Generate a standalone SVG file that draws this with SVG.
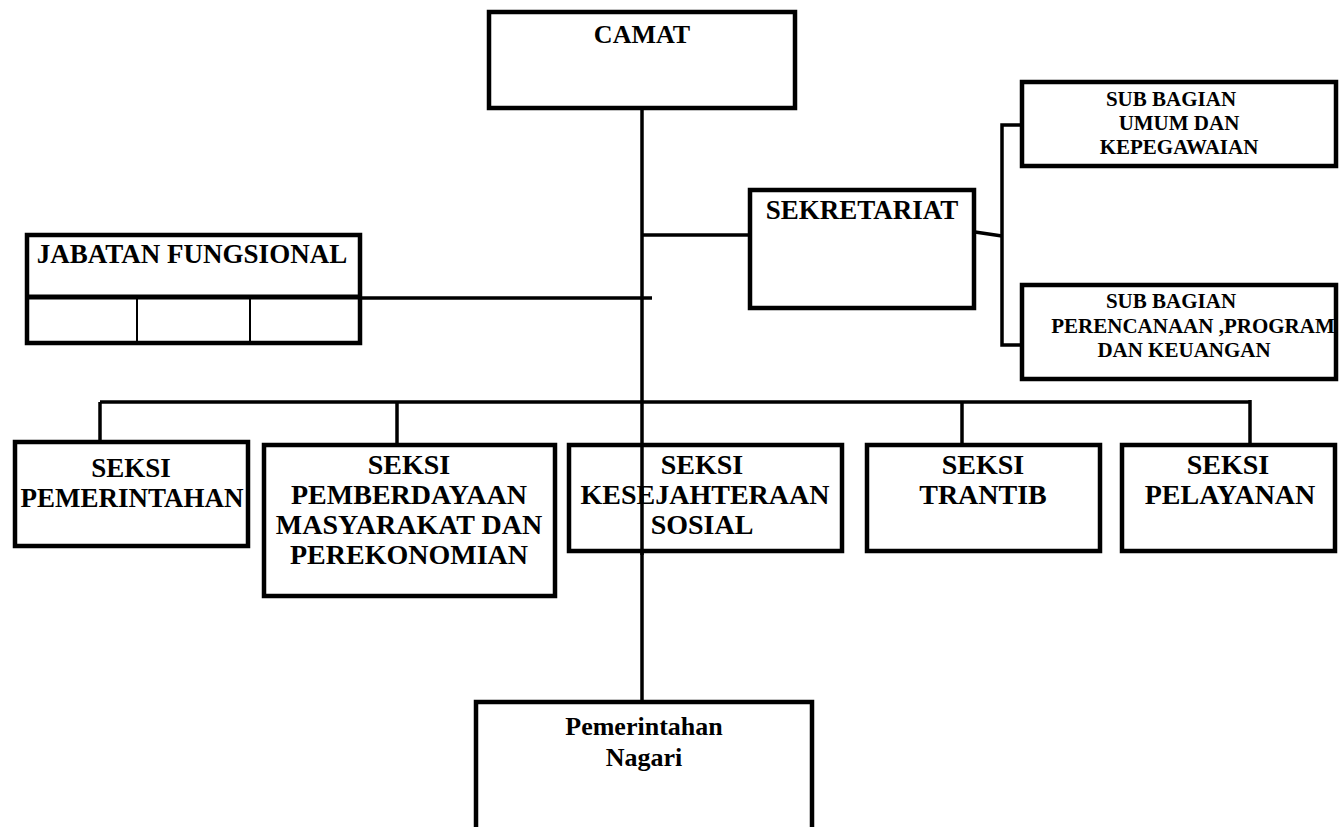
<svg xmlns="http://www.w3.org/2000/svg" width="1342" height="827" viewBox="0 0 1342 827">
<style>
.box{fill:#fff;stroke:#000;stroke-width:4.5}
.ln{fill:none;stroke:#000;stroke-width:3.5}
text{font-family:"Liberation Serif","Times New Roman",serif;font-weight:bold;fill:#000;text-anchor:middle}
.f26{font-size:26px}
.f27{font-size:27px}
.f28{font-size:28px}
.f21{font-size:21px}
</style>
<rect width="1342" height="827" fill="#fff"/>
<g id="connectors">
<line class="ln" x1="642" y1="110" x2="642" y2="700"/>
<line class="ln" x1="642" y1="235" x2="748" y2="235"/>
<polyline class="ln" points="975,232 1002,236"/>
<polyline class="ln" points="1020,125 1002,125 1002,345 1020,345"/>
<line class="ln" x1="362" y1="298" x2="652" y2="298"/>
<line class="ln" x1="100" y1="402" x2="1250" y2="402"/>
<line class="ln" x1="100" y1="402" x2="100" y2="440"/>
<line class="ln" x1="397" y1="402" x2="397" y2="443"/>
<line class="ln" x1="962" y1="402" x2="962" y2="443"/>
<line class="ln" x1="1250" y1="400" x2="1250" y2="443"/>
</g>
<g id="camat">
<rect class="box" x="489" y="12" width="306" height="96"/>
<text class="f26" x="642" y="43">CAMAT</text>
</g>
<g id="sekretariat">
<rect class="box" x="750" y="190" width="224" height="118"/>
<text class="f27" x="862" y="219">SEKRETARIAT</text>
</g>
<g id="sub-umum">
<rect class="box" x="1022" y="82" width="314" height="84"/>
<text class="f21" x="1171" y="106">SUB BAGIAN</text>
<text class="f21" x="1179" y="130">UMUM DAN</text>
<text class="f21" x="1179" y="154">KEPEGAWAIAN</text>
</g>
<g id="sub-perencanaan">
<rect class="box" x="1022" y="285" width="314" height="94"/>
<text class="f21" x="1171" y="308">SUB BAGIAN</text>
<text class="f21" x="1193" y="333">PERENCANAAN ,PROGRAM</text>
<text class="f21" x="1184" y="357">DAN KEUANGAN</text>
</g>
<g id="jabatan">
<rect class="box" x="27" y="235" width="333" height="108"/>
<line x1="27" y1="297" x2="360" y2="297" stroke="#000" stroke-width="5"/>
<line x1="137" y1="297" x2="137" y2="343" stroke="#000" stroke-width="2"/>
<line x1="250" y1="297" x2="250" y2="343" stroke="#000" stroke-width="2"/>
<text class="f27" x="192" y="263">JABATAN FUNGSIONAL</text>
</g>
<g id="seksi-pemerintahan">
<rect class="box" x="15" y="442" width="233" height="104"/>
<text class="f27" x="131" y="477">SEKSI</text>
<text class="f27" x="132" y="507">PEMERINTAHAN</text>
</g>
<g id="seksi-pemberdayaan">
<rect class="box" x="264" y="445" width="291" height="151"/>
<text class="f28" x="409" y="474">SEKSI</text>
<text class="f28" x="409" y="504">PEMBERDAYAAN</text>
<text class="f28" x="409" y="534">MASYARAKAT DAN</text>
<text class="f28" x="409" y="564">PEREKONOMIAN</text>
</g>
<g id="seksi-kesejahteraan">
<rect class="box" x="569" y="445" width="273" height="106"/>
<text class="f28" x="702" y="474">SEKSI</text>
<text class="f28" x="705" y="504">KESEJAHTERAAN</text>
<text class="f28" x="702" y="534">SOSIAL</text>
</g>
<line x1="642" y1="443" x2="642" y2="555" stroke="#000" stroke-width="3.5"/>
<g id="seksi-trantib">
<rect class="box" x="867" y="445" width="233" height="106"/>
<text class="f28" x="983" y="474">SEKSI</text>
<text class="f28" x="983" y="504">TRANTIB</text>
</g>
<g id="seksi-pelayanan">
<rect class="box" x="1122" y="445" width="213" height="106"/>
<text class="f28" x="1228" y="474">SEKSI</text>
<text class="f28" x="1230" y="504">PELAYANAN</text>
</g>
<g id="pemerintahan-nagari">
<rect class="box" x="476" y="702" width="336" height="140"/>
<text class="f26" x="644" y="735">Pemerintahan</text>
<text class="f26" x="644" y="766">Nagari</text>
</g>
</svg>
